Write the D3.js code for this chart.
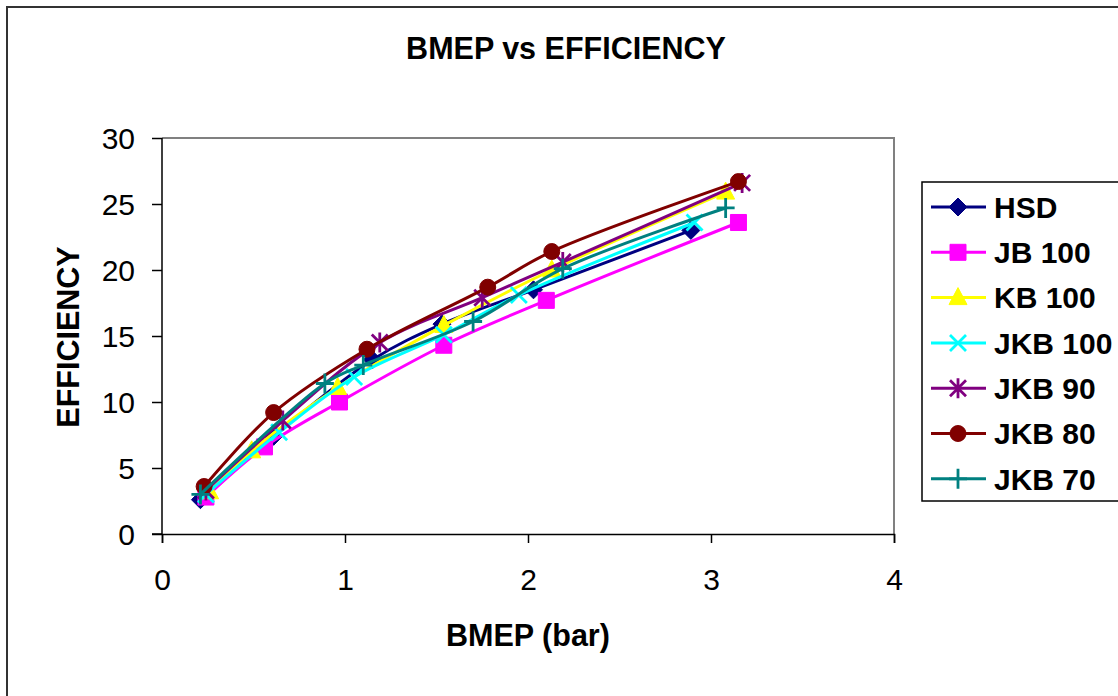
<!DOCTYPE html>
<html>
<head>
<meta charset="utf-8">
<script src="https://cdn.jsdelivr.net/npm/d3@7"></script>
<style>
  html, body { margin: 0; padding: 0; background: #fff; }
  svg { display: block; font-family: "Liberation Sans", Arial, sans-serif; }
</style>
</head>
<body>
<svg id="chart" width="1118" height="696"></svg>
<script>
// Brake mean effective pressure (bar) vs brake thermal efficiency (%)
const seriesNames = ["HSD", "JB 100", "KB 100", "JKB 100", "JKB 90", "JKB 80", "JKB 70"];
const seriesColors = ["#000080", "#FF00FF", "#FFFF00", "#00FFFF", "#800080", "#800000", "#008080"];
const seriesMarkers = ["diamond", "square", "triangle", "cross", "star", "circle", "plus"];

const hsdBmep    = [0.21, 0.61, 1.15, 1.53, 2.03, 2.89];
const hsdEff     = [2.6, 7.4, 13.2, 15.9, 18.5, 23.0];
const jb100Bmep  = [0.24, 0.56, 0.97, 1.54, 2.10, 3.15];
const jb100Eff   = [2.8, 6.6, 10.0, 14.3, 17.7, 23.6];
const kb100Bmep  = [0.26, 0.49, 0.96, 1.54, 2.13, 3.08];
const kb100Eff   = [3.2, 6.3, 11.1, 15.8, 20.0, 25.9];
const jkb100Bmep = [0.24, 0.64, 1.05, 1.54, 1.95, 2.91];
const jkb100Eff  = [3.0, 7.7, 11.9, 15.1, 18.1, 23.6];
const jkb90Bmep  = [0.24, 0.66, 1.19, 1.75, 2.19, 3.17];
const jkb90Eff   = [3.3, 8.6, 14.5, 17.9, 20.6, 26.6];
const jkb80Bmep  = [0.23, 0.61, 1.12, 1.78, 2.13, 3.15];
const jkb80Eff   = [3.6, 9.2, 14.0, 18.7, 21.4, 26.7];
const jkb70Bmep  = [0.21, 0.89, 1.10, 1.70, 2.19, 3.08];
const jkb70Eff   = [3.0, 11.4, 12.8, 16.1, 20.1, 24.7];

const xTicks = [0, 1, 2, 3, 4];
const yTicks = [0, 5, 10, 15, 20, 25, 30];

const bmepSets = [hsdBmep, jb100Bmep, kb100Bmep, jkb100Bmep, jkb90Bmep, jkb80Bmep, jkb70Bmep];
const effSets  = [hsdEff, jb100Eff, kb100Eff, jkb100Eff, jkb90Eff, jkb80Eff, jkb70Eff];

const series = seriesNames.map((name, i) => ({
  name,
  color: seriesColors[i],
  marker: seriesMarkers[i],
  points: bmepSets[i].map((b, j) => ({ x: b, y: effSets[i][j] }))
}));

const svg = d3.select("#chart");

// outer chart border
svg.append("rect")
  .attr("x", 7).attr("y", 7).attr("width", 1118).attr("height", 700)
  .attr("fill", "none").attr("stroke", "#333").attr("stroke-width", 2);

const plot = { left: 162, top: 138, right: 894, bottom: 534 };
const x = d3.scaleLinear().domain([0, 4]).range([plot.left, plot.right]);
const y = d3.scaleLinear().domain([0, 30]).range([plot.bottom, plot.top]);

// plot area frame (top and right edges)
svg.append("path")
  .attr("d", `M${plot.left},${plot.top}H${plot.right}V${plot.bottom}`)
  .attr("fill", "none").attr("stroke", "#808080").attr("stroke-width", 2);

// axes
const xAxis = svg.append("g")
  .attr("transform", `translate(0,${plot.bottom})`)
  .call(d3.axisBottom(x).tickValues(xTicks).tickSize(9).tickPadding(26).tickFormat(d3.format("d")));
const yAxis = svg.append("g")
  .attr("transform", `translate(${plot.left},0)`)
  .call(d3.axisLeft(y).tickValues(yTicks).tickSize(10).tickPadding(17).tickFormat(d3.format("d")));

[xAxis, yAxis].forEach(g => {
  g.select(".domain").attr("stroke", "#000").attr("stroke-width", 1.5);
  g.selectAll(".tick line").attr("stroke", "#000").attr("stroke-width", 1.5);
  g.selectAll(".tick text").attr("fill", "#000").style("font-size", "30px")
    .style("font-family", "'Liberation Sans', Arial, sans-serif");
});
yAxis.select(".domain").attr("d", `M-10,${plot.bottom}H0V${plot.top}`);
yAxis.selectAll(".tick text").attr("dy", "0.36em");

// marker shapes
function markerPath(type) {
  switch (type) {
    case "diamond": return "M0,-9L9,0L0,9L-9,0Z";
    case "square": return "M-8,-8H8V8H-8Z";
    case "triangle": return "M0,-10L9,7H-9Z";
    case "circle": return d3.symbol(d3.symbolCircle, 200)();
    case "cross": return "M-8,-8L8,8M8,-8L-8,8";
    case "star": return "M-8,-8L8,8M8,-8L-8,8M0,-10V10";
    case "plus": return "M-9,0H9M0,-10V10";
  }
}
const isStroked = t => t === "cross" || t === "star" || t === "plus";

function drawMarker(g, type, color) {
  g.append("path")
    .attr("d", markerPath(type))
    .attr("fill", isStroked(type) ? "none" : color)
    .attr("stroke", color)
    .attr("stroke-width", isStroked(type) ? 2.8 : 1);
}

const line = d3.line()
  .x(d => x(d.x)).y(d => y(d.y))
  .curve(d3.curveCatmullRom.alpha(0.5));

series.forEach(s => {
  const g = svg.append("g");
  g.append("path")
    .attr("d", line(s.points))
    .attr("fill", "none").attr("stroke", s.color).attr("stroke-width", 3);
  s.points.forEach(p => {
    const m = g.append("g").attr("transform", `translate(${x(p.x)},${y(p.y)})`);
    drawMarker(m, s.marker, s.color);
  });
});

// title and axis titles
svg.append("text")
  .attr("x", 566).attr("y", 59).attr("text-anchor", "middle")
  .style("font-size", "30.5px").style("font-weight", "bold")
  .text("BMEP vs EFFICIENCY");
svg.append("text")
  .attr("x", 528).attr("y", 646).attr("text-anchor", "middle")
  .style("font-size", "30.5px").style("font-weight", "bold")
  .text("BMEP (bar)");
svg.append("text")
  .attr("transform", "translate(79,337) rotate(-90)")
  .attr("text-anchor", "middle")
  .style("font-size", "30.5px").style("font-weight", "bold")
  .text("EFFICIENCY");

// legend
const legend = svg.append("g");
legend.append("rect")
  .attr("x", 922).attr("y", 182).attr("width", 220).attr("height", 319)
  .attr("fill", "#fff").attr("stroke", "#000").attr("stroke-width", 1.5);
series.forEach((s, i) => {
  const ly = 207 + i * 45.3;
  const row = legend.append("g").attr("transform", `translate(0,${ly})`);
  row.append("line").attr("x1", 931).attr("x2", 986).attr("y1", 0).attr("y2", 0)
    .attr("stroke", s.color).attr("stroke-width", 3);
  const m = row.append("g").attr("transform", "translate(958,0)");
  drawMarker(m, s.marker, s.color);
  row.append("text").attr("x", 994).attr("y", 0).attr("dy", "0.36em")
    .style("font-size", "30px").style("font-weight", "bold")
    .text(s.name);
});
</script>
</body>
</html>
